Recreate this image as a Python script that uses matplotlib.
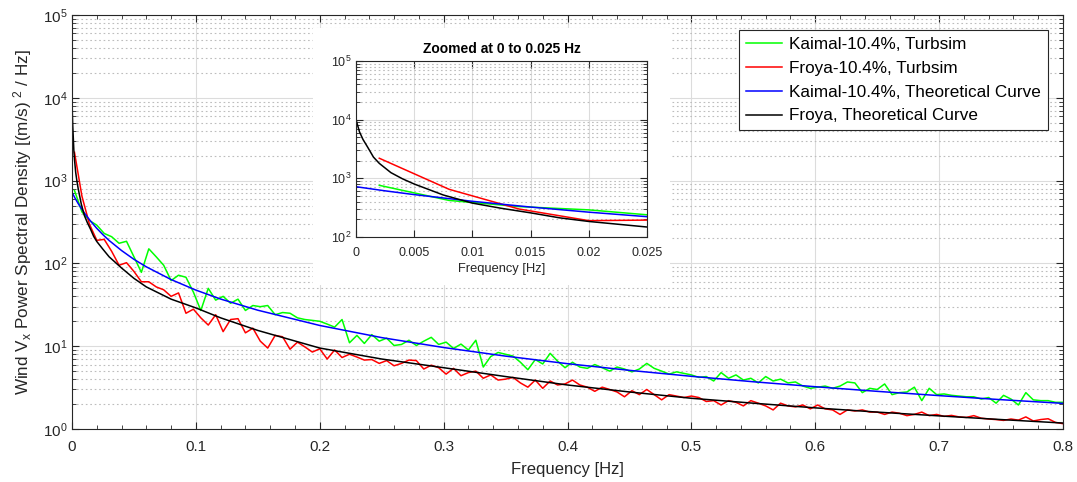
import numpy as np
import matplotlib
matplotlib.use('Agg')
import matplotlib.pyplot as plt
from matplotlib import ticker

plt.rcParams['font.family'] = ['Liberation Sans', 'DejaVu Sans']
plt.rcParams['mathtext.fontset'] = 'custom'
plt.rcParams['mathtext.rm'] = 'Liberation Sans'
plt.rcParams['mathtext.it'] = 'Liberation Sans:italic'

# Turbsim frequency grid [Hz]
f_sim = np.round(0.002 + 0.006 * np.arange(134), 4)

# Kaimal-10.4%, Turbsim
kaimal_sim = [
    760, 420, 330, 290, 230, 210, 175, 185, 120, 78,
    150, 120, 95, 62, 72, 68, 45, 27, 50, 36,
    40, 33, 37, 27, 31, 30, 31, 24, 25.5, 25,
    22, 21, 20.5, 20, 18.5, 17, 21, 11, 13.5, 10.8,
    13.8, 11.5, 12.5, 10.2, 10.5, 11.8, 10.2, 11.5, 12.8, 10.5,
    11.2, 9.4, 10.6, 9.0, 11.8, 5.6, 7.5, 8.4, 8.0, 7.6,
    6.4, 5.2, 6.9, 6.1, 8.2, 6.6, 5.5, 6.4, 5.6, 5.4,
    6.0, 5.5, 5.0, 5.6, 5.3, 4.9, 5.3, 6.2, 5.4, 5.0,
    4.6, 4.9, 4.7, 4.5, 4.2, 4.3, 3.8, 4.8, 4.1, 4.5,
    3.9, 4.1, 3.6, 4.3, 3.8, 4.0, 3.6, 3.7, 3.3, 3.1,
    3.2, 3.3, 3.1, 3.3, 3.7, 3.6, 2.75, 3.1, 3.0, 3.5,
    2.6, 2.75, 2.8, 3.2, 2.2, 3.1, 2.6, 2.65, 2.55, 2.5,
    2.45, 2.45, 2.3, 2.4, 2.05, 2.55, 2.3, 1.95, 2.75, 2.25,
    2.2, 2.2, 2.1, 2.1,
]

# Froya-10.4%, Turbsim
froya_sim = [
    2200, 650, 300, 190, 195, 140, 95, 102, 80, 60,
    60, 52, 48, 40, 44, 25, 28, 22, 18, 24,
    15, 21, 21.5, 14.5, 16.5, 11.5, 9.5, 13.5, 13, 9.2,
    11.2, 9.8, 8.5, 9.3, 7.0, 9.0, 7.3, 8.0, 7.4, 6.8,
    6.9, 6.2, 6.7, 5.8, 6.2, 6.8, 6.7, 5.3, 5.9, 5.5,
    4.6, 5.4, 4.4, 4.8, 5.0, 4.1, 4.5, 3.9, 4.0, 4.2,
    3.6, 3.2, 3.9, 3.1, 3.8, 3.4, 3.5, 3.9, 3.4, 3.2,
    2.85, 3.2, 3.0, 2.8, 2.45, 2.9, 2.6, 3.0, 2.6, 2.25,
    2.6, 2.5, 2.4, 2.5, 2.4, 2.15, 2.2, 1.95, 2.2, 2.1,
    1.9, 2.2, 2.05, 1.9, 1.7, 2.05, 1.9, 1.85, 1.95, 1.75,
    1.95, 1.75, 1.7, 1.5, 1.7, 1.65, 1.7, 1.6, 1.6, 1.5,
    1.6, 1.55, 1.45, 1.5, 1.6, 1.45, 1.5, 1.42, 1.46, 1.4,
    1.38, 1.45, 1.35, 1.32, 1.3, 1.27, 1.32, 1.28, 1.4, 1.25,
    1.3, 1.33, 1.2, 1.16,
]

# Kaimal-10.4%, Theoretical Curve
f_kaimal = [0, 0.0025, 0.005, 0.01, 0.015, 0.02, 0.025, 0.03, 0.04, 0.05,
            0.06, 0.08, 0.1, 0.12, 0.15, 0.2, 0.25, 0.3, 0.35, 0.4,
            0.45, 0.5, 0.55, 0.6, 0.65, 0.7, 0.75, 0.8]
kaimal_theory = [720, 612, 528, 406, 324, 265, 222, 189, 143, 112,
                 90.9, 63.8, 47.6, 37.1, 27.2, 17.8, 12.7, 9.64, 7.59, 6.15,
                 5.11, 4.33, 3.72, 3.24, 2.85, 2.53, 2.26, 2.04]

# Froya, Theoretical Curve
f_froya = [0, 0.0003, 0.0006, 0.001, 0.0015, 0.002, 0.003, 0.004, 0.005, 0.0075,
           0.01, 0.0125, 0.015, 0.0175, 0.02, 0.025, 0.03, 0.04, 0.05, 0.06,
           0.08, 0.1, 0.12, 0.15, 0.2, 0.25, 0.3, 0.35, 0.4, 0.45,
           0.5, 0.55, 0.6, 0.65, 0.7, 0.75, 0.8]
froya_theory = [10000, 6200, 4600, 3400, 2300, 1800, 1250, 980, 800, 520,
                378, 308, 258, 212, 184, 148, 120, 88, 66, 52,
                37, 29, 22, 15.5, 9.5, 7.0, 5.5, 4.3, 3.4, 2.8,
                2.35, 2.05, 1.8, 1.6, 1.44, 1.3, 1.18]

labels = ['Kaimal-10.4%, Turbsim', 'Froya-10.4%, Turbsim',
          'Kaimal-10.4%, Theoretical Curve', 'Froya, Theoretical Curve']
colors = ['#00ff00', '#ff0000', '#0000ff', '#000000']
txt = '#262626'


def style_axes(ax, fs, xpad):
    ax.set_yscale('log')
    ax.grid(True, which='major', color='#dcdcdc', lw=0.8, ls='-')
    ax.grid(True, which='minor', axis='y', color='#bdbdbd', lw=0.8, ls=(0, (1.5, 2.5)))
    ax.set_axisbelow(True)
    ax.tick_params(which='both', direction='in', top=True, right=True,
                   colors='#262626', labelsize=fs, labelcolor=txt)
    ax.tick_params(which='major', length=5)
    ax.tick_params(which='minor', length=3)
    ax.tick_params(axis='x', which='major', pad=xpad)
    for s in ax.spines.values():
        s.set_color('#262626')
        s.set_linewidth(0.8)
    ax.yaxis.set_major_locator(ticker.LogLocator(base=10, numticks=10))
    ax.yaxis.set_minor_locator(ticker.LogLocator(base=10, subs=np.arange(2, 10), numticks=10))
    ax.yaxis.set_minor_formatter(ticker.NullFormatter())
    ax.xaxis.set_major_formatter(ticker.FormatStrFormatter('%g'))


def draw(ax):
    ax.plot(f_sim, kaimal_sim, color=colors[0], lw=1.1, label=labels[0])
    ax.plot(f_sim, froya_sim, color=colors[1], lw=1.1, label=labels[1])
    ax.plot(f_kaimal, kaimal_theory, color=colors[2], lw=1.1, label=labels[2])
    ax.plot(f_froya, froya_theory, color=colors[3], lw=1.1, label=labels[3])


fig = plt.figure(figsize=(10.77, 4.82), dpi=100)
ax = fig.add_axes([72 / 1077, 1 - 429 / 482, (1063 - 72) / 1077, (429 - 15) / 482])
draw(ax)
style_axes(ax, 11, 8)
ax.set_xlim(0, 0.8)
ax.set_ylim(1, 1e5)
ax.xaxis.set_major_locator(ticker.MultipleLocator(0.1))
ax.xaxis.set_minor_locator(ticker.MultipleLocator(0.02))
ax.set_xlabel('Frequency [Hz]', fontsize=12, color=txt, labelpad=6)
ax.set_ylabel(r'Wind V$_\mathregular{x}$ Power Spectral Density [(m/s) $^\mathregular{2}$ / Hz]',
              fontsize=12.3, color=txt, labelpad=6)

leg = ax.legend(loc='upper right', bbox_to_anchor=(1048 / 1077, 1 - 30 / 482),
                bbox_transform=fig.transFigure, borderaxespad=0, fontsize=12.3,
                fancybox=False, framealpha=1, edgecolor='#262626',
                handlelength=2.1, labelspacing=0.52, borderpad=0.4, handletextpad=0.45)
leg.get_frame().set_linewidth(0.8)

# white background behind the zoomed view
bg = fig.add_axes([313 / 1077, 1 - 285 / 482, (670 - 313) / 1077, (285 - 28) / 482])
bg.set_xticks([])
bg.set_yticks([])
for s in bg.spines.values():
    s.set_visible(False)
bg.set_facecolor('white')

ins = fig.add_axes([356 / 1077, 1 - 237 / 482, (647 - 356) / 1077, (237 - 61) / 482])
draw(ins)
style_axes(ins, 9, 7)
ins.set_xlim(0, 0.025)
ins.set_ylim(1e2, 1e5)
ins.xaxis.set_major_locator(ticker.MultipleLocator(0.005))
ins.xaxis.set_minor_locator(ticker.NullLocator())
ins.set_xlabel('Frequency [Hz]', fontsize=9.3, color=txt, labelpad=3)
ins.set_title('Zoomed at 0 to 0.025 Hz', fontsize=10, fontweight='bold', color='black', pad=6)

fig.savefig('out.png', dpi=100)
